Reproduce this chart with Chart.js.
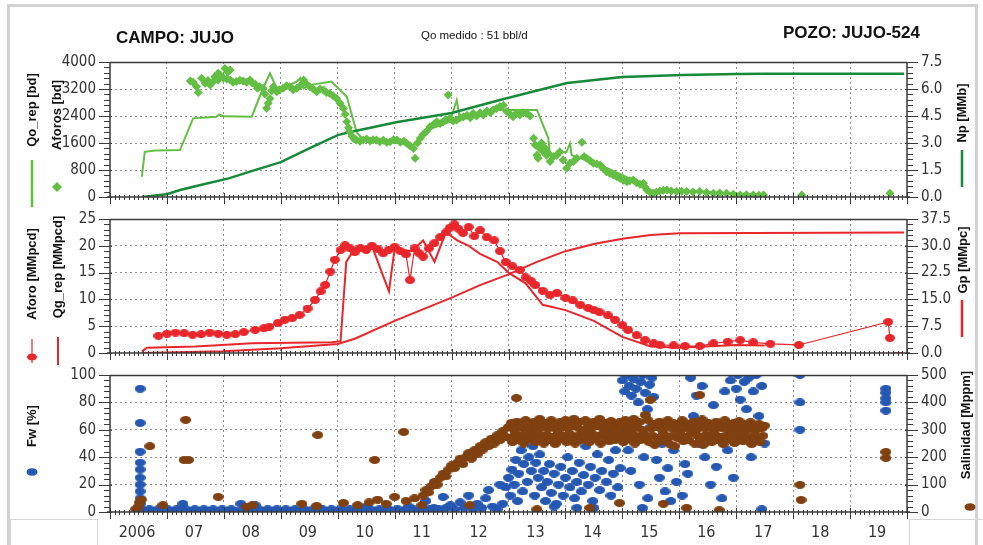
<!DOCTYPE html>
<html>
<head>
<meta charset="utf-8">
<title>JUJO-524</title>
<script src="https://cdn.jsdelivr.net/npm/chart.js@4.4.1/dist/chart.umd.min.js"></script>
<style>
html,body{margin:0;padding:0;background:#fff}
#page{position:relative;width:983px;height:545px;overflow:hidden;font-family:'Liberation Sans',Arial,sans-serif;color:#111}
.frame{position:absolute;left:7px;top:4px;width:971px;height:600px;border:3px solid #d2d2d2;box-sizing:border-box}
.box{position:absolute;border:1.5px solid #d6d6d6;box-sizing:border-box}
canvas.layer{position:absolute;left:0;top:0}
.title{position:absolute;font-weight:bold;white-space:nowrap;color:#111}
.vt{position:absolute;white-space:nowrap;font-weight:bold;font-size:13px;line-height:14px;transform:translate(-50%,-50%) rotate(-90deg);color:#111}
svg.sym{position:absolute;left:0;top:0;overflow:visible}
</style>
</head>
<body>
<div id="page">
  <div class="frame"></div>
  <div class="box" style="left:10px;top:519px;width:88px;height:40px"></div>
  <div class="box" style="left:909px;top:519px;width:80px;height:40px"></div>

  <canvas class="layer" id="cOil" width="983" height="545"></canvas>
  <canvas class="layer" id="cGas" width="983" height="545"></canvas>
  <canvas class="layer" id="cWat" width="983" height="545"></canvas>

  <div class="title" style="left:116px;top:28px;font-size:17px;line-height:20px">CAMPO: JUJO</div>
  <div class="title" style="left:421px;top:29px;font-size:11.5px;line-height:12px;font-weight:normal">Qo medido : 51 bbl/d</div>
  <div class="title" style="left:783px;top:23px;font-size:17px;line-height:20px">POZO: JUJO-524</div>

  <div class="vt" style="left:32px;top:110px">Qo_rep [bd]</div>
  <div class="vt" style="left:57px;top:115px">Aforos [bd]</div>
  <div class="vt" style="left:962px;top:113px">Np [MMb]</div>
  <div class="vt" style="left:32px;top:274px">Aforo [MMpcd]</div>
  <div class="vt" style="left:58px;top:267px">Qg_rep [MMpcd]</div>
  <div class="vt" style="left:963px;top:260px">Gp [MMpc]</div>
  <div class="vt" style="left:32px;top:426px">Fw [%]</div>
  <div class="vt" style="left:966px;top:425px">Salinidad [Mppm]</div>

  <svg class="sym" width="983" height="545">
    <line x1="32" y1="160" x2="32" y2="207" stroke="#63be44" stroke-width="2.5"/>
    <polygon points="57,182 62,187 57,192 52,187" fill="#63be44"/>
    <line x1="962" y1="150" x2="962" y2="187" stroke="#178a3a" stroke-width="2.5"/>
    <line x1="32" y1="339" x2="32" y2="363" stroke="#e8262b" stroke-width="1.2"/>
    <ellipse cx="32" cy="357" rx="5" ry="3.6" fill="#e8262b"/>
    <line x1="58" y1="337" x2="58" y2="365" stroke="#e8262b" stroke-width="2"/>
    <line x1="962" y1="300" x2="962" y2="337" stroke="#e8262b" stroke-width="2.5"/>
    <ellipse cx="32" cy="472" rx="5.5" ry="3.8" fill="#2458b3"/>
    <ellipse cx="970" cy="507" rx="5.5" ry="3.8" fill="#80400f"/>
  </svg>
</div>

<script>
// ---- axis labels ----
const yearLabels = ['2006','07','08','09','10','11','12','13','14','15','16','17','18','19'];

// ---- oil: reported rate [bd], well tests [bd], cumulative [MMb] ----
const qoRep = [[2006.56,600],[2006.61,1340],[2006.8,1380],[2007.23,1390],[2007.46,2330],[2007.87,2380],[2007.92,2440],[2008.0,2390],[2008.49,2380],[2008.69,3230],[2008.81,3660],[2008.93,3220],[2009.16,3320],[2009.28,3420],[2009.34,3520],[2009.40,3220],[2009.55,3330],[2009.89,3420],[2010.16,2970],[2010.33,1930],[2010.45,1690],[2010.9,1650],[2011.33,1540],[2011.6,2000],[2011.97,2230],[2012.09,2870],[2012.15,2280],[2012.5,2450],[2012.79,2630],[2012.85,2580],[2013.50,2580],[2013.70,1740],[2013.73,1240],[2014.02,1340],[2014.08,1590],[2014.11,1240],[2014.61,950],[2015.19,500],[2015.49,160],[2016.36,160],[2017.48,60]];
const aforosOil = [[2007.41,3440],[2007.46,3400],[2007.52,3270],[2007.55,3100],[2007.61,3520],[2007.67,3370],[2007.72,3450],[2007.76,3320],[2007.80,3400],[2007.84,3565],[2007.90,3665],[2007.95,3600],[2008.02,3810],[2008.07,3700],[2008.11,3760],[2007.90,3470],[2007.99,3520],[2008.05,3500],[2008.11,3470],[2008.16,3400],[2008.22,3420],[2008.28,3460],[2008.34,3440],[2008.40,3400],[2008.46,3470],[2008.50,3380],[2008.55,3340],[2008.59,3220],[2008.63,3270],[2008.69,3220],[2008.72,3050],[2008.75,2630],[2008.78,2780],[2008.81,2920],[2008.84,3150],[2008.87,3270],[2008.90,3200],[2008.93,3120],[2008.98,3180],[2009.04,3220],[2009.10,3300],[2009.16,3270],[2009.22,3180],[2009.28,3220],[2009.34,3300],[2009.40,3470],[2009.45,3350],[2009.51,3270],[2009.57,3200],[2009.63,3120],[2009.69,3200],[2009.75,3170],[2009.80,3100],[2009.86,3070],[2009.92,3000],[2009.98,2920],[2010.04,2780],[2010.10,2630],[2010.13,2450],[2010.16,2230],[2010.19,2050],[2010.21,1935],[2010.25,1800],[2010.29,1720],[2010.33,1690],[2010.39,1650],[2010.45,1690],[2010.51,1720],[2010.57,1660],[2010.62,1700],[2010.68,1690],[2010.74,1640],[2010.80,1680],[2010.86,1620],[2010.92,1640],[2010.98,1700],[2011.04,1690],[2011.10,1620],[2011.16,1650],[2011.21,1590],[2011.27,1520],[2011.33,1440],[2011.36,1150],[2011.40,1600],[2011.45,1740],[2011.50,1850],[2011.56,1950],[2011.62,2080],[2011.68,2150],[2011.74,2230],[2011.80,2180],[2011.85,2230],[2011.90,2300],[2011.94,3020],[2011.97,2330],[2012.03,2250],[2012.09,2280],[2012.15,2350],[2012.21,2380],[2012.27,2420],[2012.33,2350],[2012.38,2480],[2012.44,2400],[2012.50,2500],[2012.56,2430],[2012.62,2550],[2012.68,2500],[2012.73,2580],[2012.79,2620],[2012.85,2680],[2012.91,2720],[2012.97,2530],[2013.03,2450],[2013.08,2380],[2013.14,2480],[2013.20,2430],[2013.26,2500],[2013.32,2480],[2013.38,2400],[2013.44,1740],[2013.47,1540],[2013.50,1240],[2013.52,1150],[2013.55,1440],[2013.58,1600],[2013.61,1340],[2013.64,1450],[2013.67,1240],[2013.70,1300],[2013.73,1050],[2013.79,1200],[2013.85,1240],[2013.90,1340],[2013.96,1100],[2014.02,850],[2014.08,1000],[2014.14,1050],[2014.20,1150],[2014.29,1620],[2014.33,1200],[2014.37,1150],[2014.43,1080],[2014.49,1000],[2014.55,980],[2014.61,950],[2014.66,850],[2014.72,750],[2014.78,700],[2014.84,650],[2014.90,600],[2014.96,550],[2015.02,500],[2015.08,455],[2015.13,480],[2015.19,505],[2015.25,420],[2015.31,380],[2015.37,405],[2015.40,300],[2015.43,205],[2015.48,150],[2015.54,110],[2015.60,150],[2015.66,180],[2015.72,200],[2015.78,205],[2015.86,180],[2015.95,160],[2016.04,170],[2016.13,160],[2016.24,150],[2016.36,160],[2016.48,130],[2016.60,110],[2016.71,120],[2016.83,110],[2016.95,80],[2017.07,60],[2017.18,70],[2017.30,60],[2017.40,50],[2017.48,60],[2018.15,60],[2019.70,110]];
const npCum = [[2006.56,0],[2007.0,0.15],[2007.23,0.39],[2007.5,0.6],[2008.1,1.05],[2008.5,1.45],[2009.0,1.94],[2009.5,2.7],[2010.0,3.44],[2010.2,3.6],[2011.05,4.17],[2012.0,4.67],[2012.85,5.39],[2013.4,5.83],[2014.03,6.33],[2015.0,6.67],[2016.06,6.78],[2017.0,6.83],[2017.5,6.85],[2019.95,6.85]];

// ---- gas: well tests [MMpcd], reported rate [MMpcd], cumulative [MMpc] ----
const aforoGas = [[2006.85,3.2],[2007.0,3.6],[2007.15,3.8],[2007.3,3.7],[2007.45,3.4],[2007.6,3.5],[2007.75,3.8],[2007.9,3.6],[2008.05,3.4],[2008.2,3.5],[2008.35,3.9],[2008.55,4.3],[2008.7,4.6],[2008.8,4.9],[2008.95,5.6],[2009.07,6.2],[2009.2,6.5],[2009.33,7.1],[2009.47,8.3],[2009.6,9.9],[2009.7,11.5],[2009.78,12.7],[2009.87,15.2],[2009.95,17.4],[2010.05,19.2],[2010.13,20.1],[2010.22,19.5],[2010.3,18.8],[2010.4,19.6],[2010.5,19.2],[2010.6,20.0],[2010.7,19.4],[2010.8,18.6],[2010.9,19.3],[2011.0,19.8],[2011.1,19.0],[2011.2,18.4],[2011.27,13.6],[2011.35,19.5],[2011.42,18.7],[2011.5,18],[2011.6,19.5],[2011.7,20.5],[2011.8,21.6],[2011.9,22.5],[2011.97,23.4],[2012.05,24],[2012.12,23.2],[2012.2,22.4],[2012.3,23.5],[2012.4,21.8],[2012.5,22.9],[2012.62,21.6],[2012.75,21],[2012.85,19],[2012.95,17],[2013.07,16.2],[2013.2,15.5],[2013.3,14.1],[2013.4,13.4],[2013.47,12.7],[2013.6,11.6],[2013.73,10.8],[2013.85,11.2],[2014.0,10.3],[2014.13,9.8],[2014.26,9],[2014.4,8.4],[2014.5,8.0],[2014.6,7.6],[2014.75,7.0],[2014.87,6.2],[2015.0,5.2],[2015.1,4.3],[2015.25,3.3],[2015.4,2.4],[2015.55,1.8],[2015.66,1.5],[2015.9,1.4],[2016.1,1.3],[2016.36,1.3],[2016.6,1.8],[2016.85,2.1],[2017.07,2.4],[2017.3,2.0],[2017.6,1.7],[2018.1,1.5],[2019.67,5.8],[2019.7,2.8]];
const qgRep = [[2006.56,0.3],[2006.65,1.0],[2007.5,1.2],[2008.5,1.8],[2009.9,2.0],[2010.05,2.2],[2010.15,17],[2010.3,19.5],[2010.6,20],[2010.9,11.5],[2011.0,19.5],[2011.3,19],[2011.5,21],[2011.7,17],[2011.9,22.5],[2012.1,21],[2012.3,20],[2012.5,18.5],[2012.8,17],[2013.0,15],[2013.3,13],[2013.6,9],[2014.0,8],[2014.5,6],[2015.0,3],[2015.5,1.2],[2016.0,1],[2017.0,1.5],[2017.5,1.4],[2018.0,null],[2019.75,0],[2019.92,0]];
const gpCum = [[2006.56,0],[2008.0,0.5],[2009.0,1.3],[2010.0,2.5],[2010.3,4],[2011.0,9],[2012.0,15.5],[2012.5,19],[2013.0,22],[2013.5,25.5],[2014.0,28.5],[2014.5,30.5],[2015.0,32],[2015.5,33],[2016.0,33.5],[2019.95,33.7]];

// ---- water cut [%] ----
const fwPct = [[2006.53,90],[2006.53,65],[2006.53,44],[2006.53,36],[2006.53,31],[2006.53,25],[2006.53,20],[2006.53,15],[2006.53,10],[2006.53,6],[2006.53,3],
  [2006.61,1],[2006.69,2],[2006.77,1],[2006.85,2],[2006.93,1],[2007.01,2],[2007.09,1],[2007.17,2],[2007.25,1],[2007.28,6],[2007.33,2],[2007.41,1],[2007.49,2],[2007.57,1],[2007.65,2],[2007.73,1],[2007.81,2],[2007.89,1],[2007.97,2],[2008.05,1],[2008.13,2],[2008.21,1],[2008.3,6],[2008.37,2],[2008.45,1],[2008.55,5],[2008.61,2],[2008.69,1],[2008.77,2],[2008.85,1],[2008.93,2],[2009.01,1],[2009.09,2],[2009.17,1],[2009.25,2],[2009.33,1],[2009.41,2],[2009.49,1],[2009.57,2],[2009.65,1],[2009.73,2],[2009.81,1],[2009.89,2],[2009.97,1],[2010.05,2],[2010.13,1],[2010.21,2],[2010.29,1],[2010.37,2],[2010.45,1],[2010.5,4],[2010.57,2],[2010.65,1],[2010.73,2],[2010.81,1],[2010.89,2],[2010.97,1],[2011.05,2],[2011.13,1],[2011.21,2],[2011.25,4],[2011.33,2],[2011.41,1],[2011.49,2],[2011.55,8],[2011.61,2],[2011.69,3],[2011.77,2],[2011.85,11],[2011.9,3],[2011.98,5],[2012.06,2],[2012.15,7],[2012.22,3],[2012.3,12],[2012.38,2],[2012.45,6],[2012.53,3],[2012.6,10],[2012.65,16],[2012.72,4],[2012.8,2],[2012.85,20],[2012.9,6],
  [2012.95,18],[2013.0,25],[2013.03,12],[2013.06,31],[2013.1,20],[2013.13,38],[2013.16,8],[2013.18,28],[2013.22,45],[2013.25,15],[2013.27,35],[2013.3,52],[2013.33,22],[2013.36,40],[2013.4,30],[2013.43,48],[2013.46,12],[2013.48,36],[2013.52,25],[2013.55,42],[2013.58,18],[2013.62,30],[2013.65,8],[2013.68,22],[2013.72,35],[2013.75,14],[2013.8,28],[2013.84,6],[2013.88,20],[2013.92,33],[2013.96,12],[2014.0,25],[2014.04,40],[2014.08,18],[2014.12,30],[2014.16,10],[2014.2,22],[2014.24,36],[2014.28,15],[2014.32,27],[2014.36,48],[2014.4,20],[2014.44,33],[2014.48,8],[2014.52,25],[2014.56,42],[2014.6,16],[2014.64,30],[2014.68,55],[2014.72,22],[2014.76,38],[2014.8,12],[2014.84,28],[2014.88,45],[2014.92,18],[2014.96,32],[2014.5,3],[2014.2,3],[2013.8,4],
  [2015.0,96],[2015.04,88],[2015.08,100],[2015.12,92],[2015.16,85],[2015.2,97],[2015.24,90],[2015.28,80],[2015.32,95],[2015.36,100],[2015.4,87],[2015.44,75],[2015.48,93],[2015.52,98],[2015.55,84],[2015.05,60],[2015.1,45],[2015.15,30],[2015.22,55],[2015.3,20],[2015.35,3],[2015.38,40],[2015.45,10],[2015.5,62],
  [2015.6,38],[2015.65,25],[2015.7,50],[2015.75,15],[2015.8,32],[2015.85,8],[2015.9,45],[2015.95,22],[2016.0,60],[2016.05,12],[2016.1,35],[2016.15,28],
  [2016.2,98],[2016.25,70],[2016.3,85],[2016.35,50],[2016.4,92],[2016.45,40],[2016.5,65],[2016.55,20],[2016.6,78],[2016.65,33],[2016.7,55],[2016.75,10],[2016.8,88],[2016.85,45],[2016.9,96],[2016.95,25],[2017.0,90],[2017.03,100],[2017.07,82],[2017.1,60],[2017.14,95],[2017.18,75],[2017.22,98],[2017.26,40],[2017.3,88],[2017.35,100],[2017.4,70],[2017.45,92],[2017.5,50],[2017.45,2],
  [2018.12,100],[2018.12,80],[2018.12,60],[2019.63,90],[2019.63,87],[2019.63,83],[2019.63,80],[2019.63,74]];

// ---- salinity [Mppm] ----
const salinidad = [[2006.45,10],[2006.5,20],[2006.52,35],[2006.55,45],[2006.7,240],[2006.93,25],[2007.3,190],[2007.33,336],[2007.38,190],[2007.9,55],[2008.4,20],[2008.5,25],[2009.37,30],[2009.63,22],[2009.65,281],[2010.1,33],[2010.35,25],[2010.55,35],[2010.65,190],[2010.7,45],[2010.85,30],[2011.0,55],[2011.16,292],[2011.2,40],[2011.35,50],[2011.48,25],
  [2011.5,60],[2011.55,80],[2011.6,72],[2011.65,95],[2011.7,110],[2011.75,100],[2011.8,125],[2011.85,140],[2011.9,130],[2011.95,155],[2012.0,170],[2012.05,160],[2012.1,180],[2012.15,195],[2012.2,175],[2012.25,200],[2012.3,215],[2012.32,25],[2012.35,195],[2012.4,225],[2012.45,210],[2012.5,240],[2012.55,228],[2012.6,255],[2012.65,240],[2012.7,268],[2012.75,250],[2012.8,280],[2012.85,262],[2012.9,295],[2012.95,275],
  [2013.0,310],[2013.05,325],[2013.1,300],[2013.14,416],[2013.15,330],[2013.2,315],[2013.25,305],[2013.3,335],[2013.35,320],[2013.4,300],[2013.45,330],[2013.5,315],[2013.5,10],[2013.55,340],[2013.6,310],[2013.65,325],[2013.7,305],[2013.75,335],[2013.8,318],[2013.85,300],[2013.9,328],[2013.95,312],[2014.0,335],[2014.05,305],[2014.1,322],[2014.15,340],[2014.2,310],[2014.25,328],[2014.3,300],[2014.35,335],[2014.4,318],[2014.43,15],[2014.45,305],[2014.5,330],[2014.55,315],[2014.6,340],[2014.65,308],[2014.7,325],[2014.75,300],[2014.8,332],[2014.85,316],[2014.9,305],[2014.95,328],[2014.95,33],[2015.0,312],[2015.05,335],[2015.1,302],[2015.15,322],[2015.2,340],[2015.25,310],[2015.3,328],[2015.35,300],[2015.4,354],[2015.45,335],[2015.49,409],[2015.5,305],[2015.55,322],[2015.6,312],[2015.65,330],[2015.7,300],[2015.72,30],[2015.75,318],[2015.8,335],[2015.85,308],[2015.9,325],[2015.95,300],[2016.0,318],[2016.05,335],[2016.1,305],[2016.13,15],[2016.15,322],[2016.2,310],[2016.25,330],[2016.3,300],[2016.35,318],[2016.36,427],[2016.4,338],[2016.45,305],[2016.5,325],[2016.55,312],[2016.6,300],[2016.65,330],[2016.7,315],[2016.7,7],[2016.75,305],[2016.8,335],[2016.85,318],[2016.9,300],[2016.95,325],[2017.0,310],[2017.05,332],[2017.1,305],[2017.15,320],[2017.2,300],[2017.25,328],[2017.3,312],[2017.35,300],[2017.4,322],[2017.45,305],[2017.5,315],
  [2013.02,270],[2013.07,255],[2013.12,285],[2013.17,262],[2013.22,278],[2013.27,250],[2013.32,290],[2013.37,265],[2013.42,280],[2013.47,255],[2013.52,288],[2013.57,268],[2013.62,250],[2013.67,282],[2013.72,262],[2013.77,275],[2013.82,248],[2013.87,290],[2013.92,265],[2013.97,278],[2014.02,255],[2014.07,285],[2014.12,268],[2014.17,250],[2014.22,280],[2014.27,262],[2014.32,290],[2014.37,272],[2014.42,255],[2014.47,285],[2014.52,265],[2014.57,278],[2014.62,250],[2014.67,288],[2014.72,268],[2014.77,258],[2014.82,282],[2014.87,262],[2014.92,290],[2014.97,270],[2015.02,255],[2015.07,280],[2015.12,265],[2015.17,290],[2015.22,250],[2015.27,275],[2015.32,262],[2015.37,285],[2015.42,268],[2015.47,255],[2015.52,280],[2015.57,245],[2015.62,270],[2015.67,258],[2015.72,285],[2015.77,265],[2015.82,250],[2015.87,278],[2015.92,240],[2015.97,270],[2016.02,285],[2016.07,258],[2016.12,275],[2016.17,262],[2016.22,290],[2016.27,250],[2016.32,278],[2016.37,265],[2016.42,245],[2016.47,282],[2016.52,268],[2016.57,255],[2016.62,285],[2016.67,262],[2016.72,275],[2016.77,248],[2016.82,280],[2016.87,265],[2016.92,288],[2016.97,252],[2017.02,270],[2017.07,285],[2017.12,258],[2017.17,275],[2017.22,262],[2017.27,248],[2017.32,280],[2017.37,268],[2017.42,255],[2017.47,278],
  [2018.12,99],[2018.14,44],[2019.63,219],[2019.63,197]];

// ---------------------------------------------------------------
const X_MIN = 2006, X_MAX = 2020;
const NARROW = "'Liberation Sans Narrow','Arial Narrow','DejaVu Sans Condensed',sans-serif";
const AXIS = '#3a3a3a', GRID = '#8e8e8e';

const pts = a => a.map(p => ({x: p[0], y: p[1]}));

function ellipseImg(color, w, h) {
  const c = document.createElement('canvas');
  c.width = w; c.height = h;
  const g = c.getContext('2d');
  g.fillStyle = color;
  g.beginPath(); g.ellipse(w / 2, h / 2, w / 2, h / 2, 0, 0, Math.PI * 2); g.fill();
  return c;
}

// frame, minor ticks and major tick marks for each panel
const panelDecor = {
  id: 'panelDecor',
  afterDraw(chart) {
    const {ctx, chartArea: a, scales} = chart;
    ctx.save();
    ctx.strokeStyle = AXIS;
    const seg = (x1, y1, x2, y2, w) => { ctx.lineWidth = w || 1; ctx.beginPath(); ctx.moveTo(x1, y1); ctx.lineTo(x2, y2); ctx.stroke(); };
    seg(a.left, a.top + 0.5, a.right, a.top + 0.5, 1.5);
    seg(a.left, a.top, a.left, a.bottom, 1.5);
    seg(a.right, a.top, a.right, a.bottom, 1.5);
    seg(a.left - 3, a.bottom, a.right + 3, a.bottom, 1.5);
    // months along the time axis
    const sx = scales.x;
    for (let m = 0; m <= (X_MAX - X_MIN) * 12; m++) {
      const px = Math.round(sx.getPixelForValue(X_MIN + m / 12)) + 0.5;
      if (m % 12 === 0) seg(px, a.bottom - 4, px, a.bottom + 7);
      else seg(px, a.bottom - 2, px, a.bottom + 3);
    }
    // value axes
    [['y', -1], ['y2', 1]].forEach(([id, dir]) => {
      const s = scales[id];
      const edge = dir < 0 ? a.left : a.right;
      const major = s.options.ticks.stepSize, minor = major / 5;
      for (let v = s.min, i = 0; v <= s.max + 1e-9; i++, v = s.min + i * minor) {
        const py = Math.round(s.getPixelForValue(v)) + 0.5;
        if (i % 5 === 0) seg(edge - dir * 2, py, edge + dir * 11, py);
        else seg(edge, py, edge + dir * 6, py);
      }
    });
    ctx.restore();
  }
};

function valueAxis(pos, max, step, decimals, width) {
  return {
    type: 'linear', position: pos, min: 0, max: max,
    afterFit: s => { s.width = width; },
    ticks: {
      stepSize: step, padding: 14, color: '#333',
      font: {family: NARROW, size: 15},
      callback: v => decimals ? Number(v).toFixed(decimals) : String(v)
    },
    grid: {
      drawTicks: false, drawOnChartArea: pos === 'left', lineWidth: 1,
      color: c => (c.tick && (c.tick.value === 0 || Math.abs(c.tick.value - max) < 1e-9)) ? 'rgba(0,0,0,0)' : GRID
    },
    border: {display: false, dash: [2, 3]}
  };
}

function timeAxis(showLabels, height) {
  return {
    type: 'linear', position: 'bottom', min: X_MIN, max: X_MAX,
    afterFit: s => { s.height = height; },
    ticks: {
      display: showLabels, stepSize: 1, autoSkip: false, maxRotation: 0,
      padding: 11, labelOffset: 27, color: '#333',
      font: {family: NARROW, size: 16},
      callback: v => yearLabels[Math.round(v - X_MIN)] || ''
    },
    grid: {
      drawTicks: false, lineWidth: 1,
      color: c => (c.tick && (c.tick.value === X_MIN || c.tick.value === X_MAX)) ? 'rgba(0,0,0,0)' : GRID
    },
    border: {display: false, dash: [2, 3]}
  };
}

function makeChart(id, datasets, top, bottom, xHeight, showX, yl, yr) {
  return new Chart(document.getElementById(id), {
    type: 'line',
    data: {datasets},
    options: {
      responsive: false, animation: false,
      layout: {padding: {left: 50, right: 16, top: top, bottom: 545 - bottom - xHeight}},
      plugins: {legend: {display: false}, tooltip: {enabled: false}},
      scales: {
        x: timeAxis(showX, xHeight),
        y: valueAxis('left', yl[0], yl[1], yl[2], 60),
        y2: valueAxis('right', yr[0], yr[1], yr[2], 60)
      }
    },
    plugins: [panelDecor]
  });
}

const LGREEN = '#63be44', DGREEN = '#178a3a', RED = '#e8262b', BLUE = '#2458b3', BROWN = '#80400f';

makeChart('cOil', [
  {label: 'Aforos', data: pts(aforosOil), yAxisID: 'y', showLine: false, pointStyle: 'rectRot', pointRadius: 4.5, backgroundColor: LGREEN, borderColor: LGREEN, borderWidth: 0},
  {label: 'Np', data: pts(npCum), yAxisID: 'y2', borderColor: DGREEN, borderWidth: 2.5, pointRadius: 0},
  {label: 'Qo_rep', data: pts(qoRep), yAxisID: 'y', borderColor: LGREEN, borderWidth: 2, pointRadius: 0}
], 62, 197, 10, false, [4000, 800, 0], [7.5, 1.5, 1]);

makeChart('cGas', [
  {label: 'Aforo', data: pts(aforoGas), yAxisID: 'y', borderColor: RED, borderWidth: 1.2, pointStyle: ellipseImg(RED, 10, 8), pointRadius: 4, backgroundColor: RED},
  {label: 'Qg_rep', data: pts(qgRep), yAxisID: 'y', borderColor: RED, borderWidth: 2, pointRadius: 0, spanGaps: false},
  {label: 'Gp', data: pts(gpCum), yAxisID: 'y2', borderColor: RED, borderWidth: 2, pointRadius: 0}
], 219, 353, 10, false, [25, 5, 0], [37.5, 7.5, 1]);

makeChart('cWat', [
  {label: 'Salinidad', data: pts(salinidad), yAxisID: 'y2', showLine: false, pointStyle: ellipseImg(BROWN, 11, 8), pointRadius: 5, backgroundColor: BROWN},
  {label: 'Fw', data: pts(fwPct), yAxisID: 'y', showLine: false, pointStyle: ellipseImg(BLUE, 11, 8), pointRadius: 5, backgroundColor: BLUE}
], 375, 512, 33, true, [100, 20, 0], [500, 100, 0]);
</script>
</body>
</html>
